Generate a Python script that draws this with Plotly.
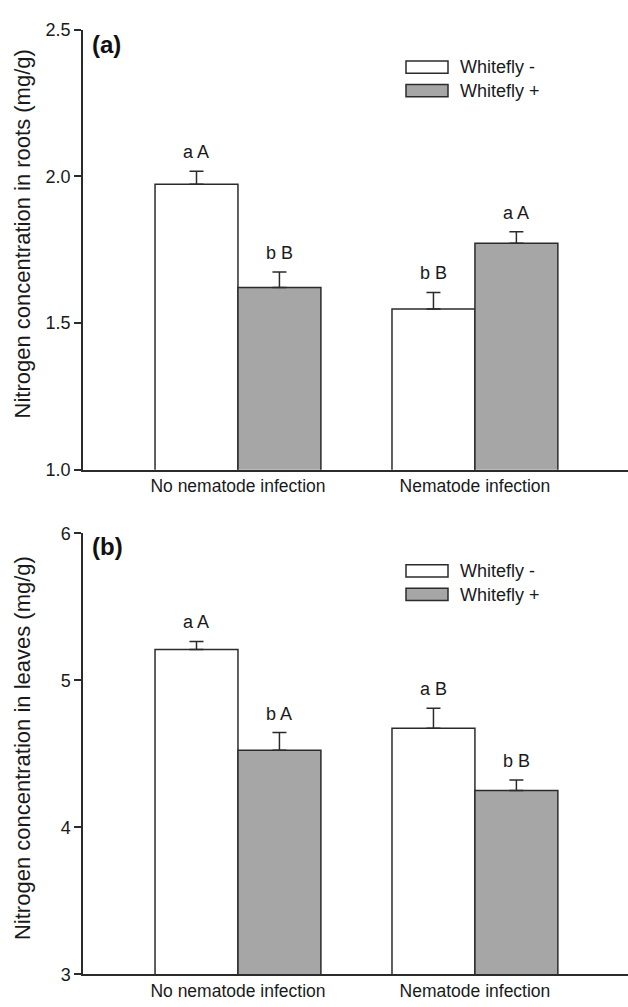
import plotly.graph_objects as go

categories = ["No nematode infection", "Nematode infection"]
series_names = ["Whitefly -", "Whitefly +"]

roots_minus = [1.973, 1.548]
roots_minus_se = [0.044, 0.056]
roots_plus = [1.621, 1.772]
roots_plus_se = [0.053, 0.039]
roots_letters_minus = ["a A", "b B"]
roots_letters_plus = ["b B", "a A"]

leaves_minus = [5.211, 4.675]
leaves_minus_se = [0.054, 0.136]
leaves_plus = [4.525, 4.251]
leaves_plus_se = [0.120, 0.071]
leaves_letters_minus = ["a A", "a B"]
leaves_letters_plus = ["b A", "b B"]

roots_ticks = [1.0, 1.5, 2.0, 2.5]
leaves_ticks = [3, 4, 5, 6]

FONT = "Liberation Sans, Arial, Helvetica, sans-serif"
LINE = "#2b2b2b"
TXT = "#1a1a1a"
GRAY = "#a6a6a6"
W, H = 628, 1007

fig = go.Figure()

def add_panel(ax, vals_m, se_m, vals_p, se_p):
    xa = "x" if ax == 1 else "x2"
    ya = "y" if ax == 1 else "y2"
    for name, vals, se, fill in [(series_names[0], vals_m, se_m, "white"),
                                 (series_names[1], vals_p, se_p, GRAY)]:
        fig.add_trace(go.Bar(
            x=categories, y=vals, name=name, xaxis=xa, yaxis=ya,
            marker=dict(color=fill, line=dict(color=LINE, width=1.5)),
            error_y=dict(type="data", symmetric=False, array=se,
                         arrayminus=[0] * len(se), color=LINE,
                         thickness=1.5, width=7),
            offsetgroup=name, showlegend=False,
        ))

add_panel(1, roots_minus, roots_minus_se, roots_plus, roots_plus_se)
add_panel(2, leaves_minus, leaves_minus_se, leaves_plus, leaves_plus_se)

def ydom(top_px, bot_px):
    return [1 - bot_px / H, 1 - top_px / H]

xdom = [83 / W, 1.0]
common_x = dict(domain=xdom, range=[-0.654, 1.646], showline=True,
                linecolor=LINE, linewidth=1.5, ticks="",
                tickfont=dict(family=FONT, size=17.5, color=TXT),
                showgrid=False, zeroline=False, fixedrange=True)
common_y = dict(showline=True, linecolor=LINE, linewidth=1.5, ticks="outside",
                ticklen=7, tickwidth=1.5, tickcolor=LINE,
                tickfont=dict(family=FONT, size=18, color=TXT),
                showgrid=False, zeroline=False)

fig.update_layout(
    width=W, height=H, margin=dict(l=0, r=0, t=0, b=0),
    paper_bgcolor="white", plot_bgcolor="white",
    barmode="group", bargap=0.3, bargroupgap=0,
    font=dict(family=FONT, color=TXT),
    xaxis=dict(anchor="y", **common_x),
    yaxis=dict(anchor="x", domain=ydom(20, 469), range=[1.0, 2.5],
               tickvals=roots_ticks, tickformat=".1f", **common_y),
    xaxis2=dict(anchor="y2", **common_x),
    yaxis2=dict(anchor="x2", domain=ydom(534, 984), range=[3, 6],
                tickvals=leaves_ticks, **common_y),
)

# y-axis titles
for txt, yc in [("Nitrogen concentration in roots (mg/g)", 229),
                ("Nitrogen concentration in leaves (mg/g)", 753)]:
    fig.add_annotation(x=22 / W, y=1 - yc / H, xref="paper", yref="paper",
                       text=txt, textangle=-90, showarrow=False,
                       xanchor="center", yanchor="middle",
                       font=dict(family=FONT, size=22, color=TXT))

# significance letters
def add_letters(xref, yref, vals, se, letters, shift):
    for i, (v, s, t) in enumerate(zip(vals, se, letters)):
        fig.add_annotation(x=i, y=v + s, xref=xref, yref=yref, text=t,
                           showarrow=False, xshift=shift, yshift=19,
                           yanchor="middle",
                           font=dict(family=FONT, size=18, color=TXT))

bar_px = 83
add_letters("x", "y", roots_minus, roots_minus_se, roots_letters_minus, -bar_px / 2)
add_letters("x", "y", roots_plus, roots_plus_se, roots_letters_plus, bar_px / 2)
add_letters("x2", "y2", leaves_minus, leaves_minus_se, leaves_letters_minus, -bar_px / 2)
add_letters("x2", "y2", leaves_plus, leaves_plus_se, leaves_letters_plus, bar_px / 2)

# panel labels
for lab, yc in [("(a)", 35), ("(b)", 547)]:
    fig.add_annotation(x=90 / W, y=1 - yc / H, xref="paper", yref="paper",
                       text="<b>" + lab + "</b>", showarrow=False,
                       xanchor="left", yanchor="middle",
                       font=dict(family=FONT, size=24, color="#111"))

# legends (drawn manually: wide rectangular swatches)
for top in [52, 566]:
    for k, (name, fill) in enumerate(zip(series_names, ["white", GRAY])):
        y0 = top + k * 24
        fig.add_shape(type="rect", xref="paper", yref="paper",
                      x0=406 / W, x1=448 / W, y0=1 - (y0 + 12.5) / H, y1=1 - y0 / H,
                      fillcolor=fill, line=dict(color=LINE, width=1.5))
        fig.add_annotation(x=458 / W, y=1 - (y0 + 6.5) / H, xref="paper", yref="paper",
                           text=name, showarrow=False, xanchor="left",
                           yanchor="middle",
                           font=dict(family=FONT, size=18, color=TXT))

fig.write_html("out.html")
